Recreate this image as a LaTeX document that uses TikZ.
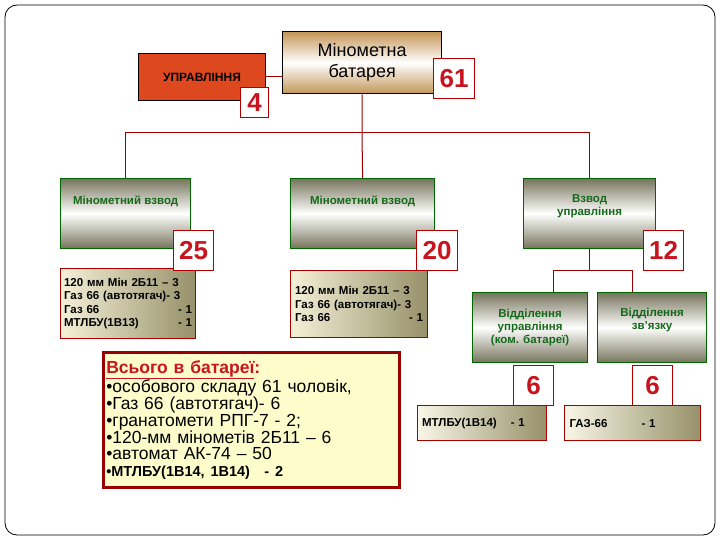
\documentclass[tikz,border=0pt]{standalone}
\usepackage{fontspec}
\setmainfont{Liberation Sans}
\definecolor{gshade}{RGB}{118,116,92}
\definecolor{ishade}{RGB}{150,145,105}
\definecolor{ilight}{RGB}{245,240,215}
\definecolor{tan}{RGB}{196,150,88}
\definecolor{uprc}{RGB}{222,72,30}
\definecolor{numc}{RGB}{200,20,30}
\definecolor{gtext}{RGB}{20,105,25}
\begin{document}
\begin{tikzpicture}[x=1pt,y=-1pt,
  gbox/.style={draw=green!40!black,line width=1.2pt,top color=gshade,bottom color=gshade,middle color=white,
     font=\fontsize{11.5}{13}\selectfont\bfseries, text=gtext, align=center,anchor=north west,inner sep=0pt},
  num/.style={draw=red!70!black,line width=1.2pt,fill=white,font=\fontsize{26}{28}\selectfont\bfseries,text=numc,anchor=north west,inner sep=0pt},
  info/.style={draw=red!65!black,line width=1.2pt,left color=ilight,right color=ishade,
     font=\fontsize{11.5}{13.5}\selectfont\bfseries,align=left,anchor=north west,inner sep=0pt},
  conn/.style={draw=red!60!black,line width=1pt}]
\useasboundingbox (0,0) rectangle (720,540);
\draw[rounded corners=12pt,line width=0.8pt] (5,5) rectangle (715,535);
% top
\node[draw=black,line width=1.4pt,top color=tan,bottom color=tan,middle color=white,
  minimum width=159pt,minimum height=62pt,anchor=north west,font=\fontsize{18}{21}\selectfont,align=center,inner sep=0pt] (bat) at (282,31) {Мінометна\\батарея};
\node[num,minimum width=41pt,minimum height=40pt] (n61) at (433,58) {61};
\node[draw=black,line width=1pt,fill=uprc,minimum width=127pt,minimum height=47pt,anchor=north west,inner sep=0pt,
  font=\fontsize{12}{13}\selectfont\bfseries] (upr) at (138,53) {УПРАВЛІННЯ};
\node[num,minimum width=28pt,minimum height=30pt] (n4) at (240,87) {4};
\draw[conn] (upr.east) -- (upr.east -| bat.west);
% platoons
\node[gbox,minimum width=130pt,minimum height=70pt] (p1) at (60,178) {Мінометний взвод\\[14pt]};
\node[gbox,minimum width=144pt,minimum height=70pt] (p2) at (290,178) {Мінометний взвод\\[14pt]};
\node[gbox,minimum width=132pt,minimum height=70pt] (p3) at (523,178) {Взвод\\управління\\[4pt]};
\coordinate (j0) at (362,133);
\draw[conn] (bat.south) -- (j0);
\draw[conn] (p1.north) -- (p1.north|-j0) -- (p3.north|-j0) -- (p3.north);
\draw[conn] (j0) -- (p2.north);
\node[info,minimum width=135pt,minimum height=70pt,text width=128pt] (i1) at (60,268) {120 мм Мін 2Б11 – 3\\Газ 66 (автотягач)- 3\\Газ 66\hfill - 1\hspace*{6pt}\\МТЛБУ(1В13)\hfill - 1\hspace*{6pt}};
\node[num,minimum width=40pt,minimum height=40pt] (n25) at (173,230) {25};
\node[info,minimum width=137pt,minimum height=67pt,text width=128pt] (i2) at (290,270) {120 мм Мін 2Б11 – 3\\Газ 66 (автотягач)- 3\\Газ 66\hfill - 1\hspace*{8pt}};
\node[num,minimum width=41pt,minimum height=40pt] (n20) at (416,230) {20};
\node[num,minimum width=40pt,minimum height=40pt] (n12) at (643,230) {12};
% sections
\node[gbox,minimum width=115pt,minimum height=70pt] (s1) at (472,292) {Відділення\\управління\\(ком. батареї)};
\node[gbox,minimum width=109pt,minimum height=70pt] (s2) at (597,292) {Відділення\\зв'язку\\[4pt]};
\coordinate (k0) at (592,270);
\draw[conn] (p3.south) -- (p3.south|-k0);
\draw[conn] (553,292) -- (553,270) -- (632,270) -- (632,292);
\node[num,minimum width=40pt,minimum height=40pt] (n6a) at (513,365) {6};
\node[num,minimum width=40pt,minimum height=40pt] (n6b) at (632,365) {6};
\node[info,minimum width=129pt,minimum height=35pt,text width=124pt,left color=ilight!60!white] (t1) at (417,405) {\hspace*{2pt}МТЛБУ(1В14)\hspace{14pt}- 1};
\node[info,minimum width=136pt,minimum height=35pt,text width=130pt,left color=ilight!60!white] (t2) at (564,405) {\hspace*{2pt}ГАЗ-66\hspace{34pt}- 1\\[4pt]};
% total
\node[draw=red!60!black,line width=2.5pt,fill=yellow!20,minimum width=296pt,minimum height=135pt,anchor=north west,inner sep=0pt,
  align=left,text width=290pt,font=\fontsize{17.5}{16.3}\selectfont] (tot) at (102,351)
 {{\bfseries\color{numc}\underline{Всього в батареї}:}\\
 •особового складу 61 чоловік,\\
 •Газ 66 (автотягач)- 6\\
 •гранатомети РПГ-7 - 2;\\
 •120-мм мінометів 2Б11 – 6\\
 •автомат АК-74 – 50\\
 {\bfseries\fontsize{14.5}{16.3}\selectfont•МТЛБУ(1В14, 1В14)\quad - 2}};
\end{tikzpicture}
\end{document}
